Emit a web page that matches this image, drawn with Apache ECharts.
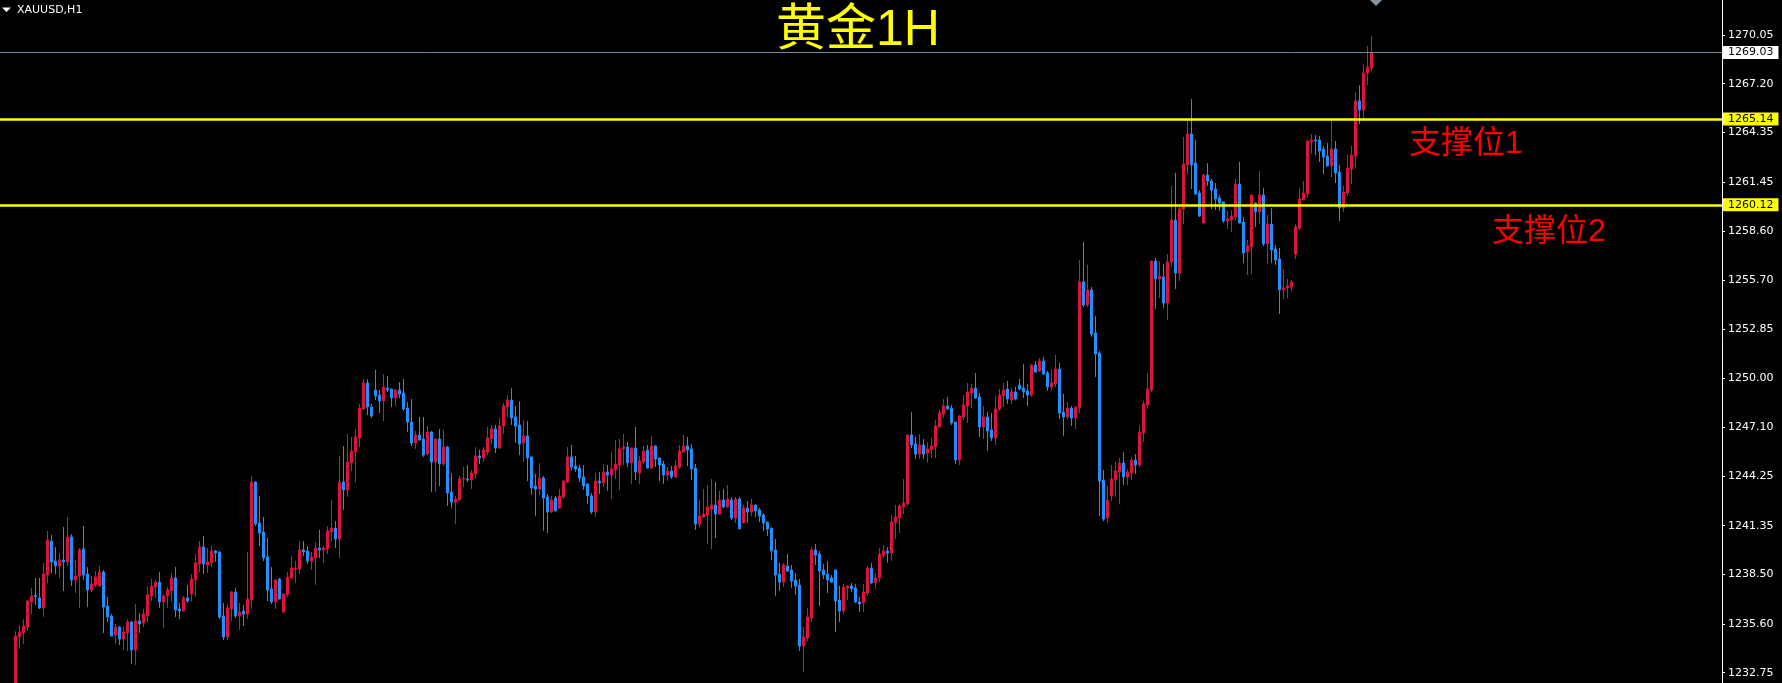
<!DOCTYPE html>
<html>
<head>
<meta charset="utf-8">
<script src="https://cdn.jsdelivr.net/npm/echarts@6/dist/echarts.min.js"></script>
<style>
html,body{margin:0;padding:0;background:#000;}
#chart{width:1782px;height:683px;}
</style>
</head>
<body>
<div id="chart"></div>
<script>
// XAUUSD H1 candles (oldest -> newest)
const openPrices = [
1231.15,1234.84,1235.09,1235.42,1236.89,1237.26,1237.12,1236.54,1238.46,1240.45,
1239.28,1238.99,1239.34,1239.23,1240.69,1238.17,1238.41,1239.99,1238.52,1237.59,
1237.88,1237.82,1238.64,1236.65,1236.07,1234.96,1235.42,1234.72,1235.07,1235.72,
1234.08,1235.78,1235.66,1236.07,1237.24,1237.76,1238.05,1236.89,1237.24,1237.53,
1238.29,1236.48,1236.36,1237.12,1237.35,1238.17,1239.11,1240.10,1239.05,1239.17,
1239.87,1239.81,1236.07,1234.84,1236.48,1237.47,1236.07,1236.36,1236.18,1237.00,
1243.90,1241.51,1240.98,1239.52,1237.65,1236.89,1238.23,1236.30,1237.30,1238.29,
1238.82,1238.82,1239.93,1239.87,1239.28,1239.46,1240.04,1239.93,1239.99,1240.98,
1241.21,1240.57,1243.90,1243.44,1245.02,1245.66,1246.48,1248.18,1249.70,1248.29,
1249.29,1248.99,1248.64,1249.40,1249.34,1248.82,1249.29,1249.11,1248.23,1247.41,
1246.19,1246.65,1246.42,1245.54,1246.83,1245.07,1246.42,1244.96,1245.95,1243.32,
1242.73,1242.85,1244.08,1244.08,1244.02,1244.37,1245.42,1245.31,1245.66,1246.42,
1247.01,1245.89,1247.18,1248.29,1248.70,1247.71,1247.24,1246.19,1246.60,1245.37,
1243.67,1243.49,1244.14,1243.03,1242.15,1242.97,1242.38,1243.03,1243.90,1245.37,
1244.84,1244.72,1244.20,1243.79,1243.09,1242.15,1243.96,1243.85,1244.49,1244.31,
1244.61,1244.90,1245.84,1245.95,1245.02,1245.89,1244.43,1245.07,1245.78,1244.72,
1246.01,1245.31,1244.96,1244.31,1244.55,1244.20,1244.78,1245.66,1246.01,1245.84,
1244.72,1241.45,1241.86,1241.97,1242.32,1242.56,1242.03,1242.85,1242.44,1242.85,
1241.80,1242.91,1241.51,1242.38,1242.15,1242.56,1242.27,1241.97,1241.56,1241.21,
1239.93,1238.52,1238.05,1238.99,1238.76,1238.17,1237.88,1234.31,1234.78,1235.95,
1239.93,1239.69,1238.76,1238.52,1238.29,1238.76,1237.00,1236.36,1237.71,1237.82,
1237.71,1236.89,1236.83,1237.41,1238.88,1238.00,1238.29,1239.63,1239.87,1239.75,
1241.51,1241.80,1242.44,1242.62,1246.65,1246.13,1245.54,1246.07,1245.60,1245.78,
1245.95,1247.12,1247.88,1248.35,1248.23,1247.41,1245.19,1247.71,1248.35,1249.11,
1249.40,1248.88,1247.12,1247.71,1246.95,1246.48,1248.18,1248.94,1249.34,1248.70,
1249.17,1249.58,1249.40,1249.23,1248.99,1250.75,1250.40,1250.98,1250.28,1249.46,
1249.64,1250.51,1248.00,1247.71,1248.23,1247.65,1248.23,1255.61,1254.26,1255.14,
1252.62,1251.45,1244.02,1241.80,1243.09,1244.02,1244.49,1245.02,1244.20,1244.43,
1245.19,1244.90,1246.77,1248.41,1249.29,1256.83,1255.78,1255.90,1254.37,1256.77,
1259.23,1256.13,1259.87,1262.45,1264.26,1262.56,1260.81,1259.05,1261.86,1261.51,
1261.04,1260.52,1260.28,1259.17,1259.23,1259.41,1261.33,1259.11,1257.36,1257.65,
1260.22,1259.70,1260.69,1257.83,1258.99,1257.53,1256.95,1255.14,1255.25,1255.31,
1257.24,1258.76,1260.40,1260.75,1263.79,1263.91,1263.91,1263.38,1262.97,1262.39,
1263.38,1262.04,1259.93,1260.81,1262.21,1262.97,1266.19,1265.66,1267.83,1268.12
];
const closePrices = [
1234.90,1235.13,1235.48,1236.95,1237.24,1237.20,1236.54,1238.52,1240.51,1239.23,
1238.99,1239.34,1239.23,1240.69,1238.17,1238.41,1239.93,1238.46,1237.59,1237.94,
1238.35,1238.64,1236.59,1236.01,1234.90,1235.42,1234.72,1235.13,1235.72,1234.08,
1235.78,1235.60,1236.18,1237.30,1237.82,1238.05,1236.89,1237.24,1237.59,1238.29,
1236.42,1236.36,1237.12,1236.94,1238.23,1239.17,1240.10,1239.11,1239.23,1239.87,
1239.75,1236.01,1234.84,1236.54,1237.47,1236.07,1236.30,1236.18,1237.06,1243.90,
1241.45,1240.92,1239.46,1237.59,1236.89,1238.17,1237.06,1237.35,1238.35,1238.88,
1238.88,1239.93,1239.81,1239.28,1239.52,1240.04,1239.93,1240.04,1241.04,1241.21,
1240.57,1243.90,1243.44,1245.07,1245.72,1246.54,1248.23,1249.70,1248.29,1247.76,
1248.93,1248.64,1249.46,1249.29,1248.82,1249.29,1249.05,1248.18,1247.41,1246.19,
1246.65,1246.36,1245.48,1246.83,1245.07,1246.42,1244.96,1245.95,1243.26,1242.73,
1242.91,1244.08,1244.14,1244.02,1244.43,1245.42,1245.31,1245.78,1246.48,1247.01,
1245.89,1247.18,1248.35,1248.70,1247.65,1247.18,1246.13,1246.60,1245.31,1243.55,
1243.49,1244.14,1242.97,1242.15,1242.85,1242.21,1243.09,1243.96,1245.37,1244.78,
1244.67,1244.14,1243.67,1243.09,1242.15,1243.96,1243.85,1244.49,1244.31,1244.67,
1244.96,1245.84,1245.95,1245.02,1245.89,1244.49,1245.13,1245.72,1244.72,1246.01,
1245.25,1244.90,1244.31,1244.55,1244.20,1244.84,1245.72,1246.01,1245.78,1244.67,
1241.45,1241.91,1242.03,1242.44,1242.56,1242.03,1242.85,1242.44,1242.91,1241.80,
1242.91,1241.16,1242.38,1242.15,1242.56,1242.21,1241.91,1241.51,1241.16,1239.87,
1238.46,1238.05,1239.05,1238.70,1238.11,1237.82,1234.31,1234.84,1236.01,1239.93,
1239.63,1238.70,1238.46,1238.17,1238.05,1236.94,1236.36,1237.76,1237.82,1237.65,
1236.89,1236.77,1237.47,1238.88,1238.00,1238.29,1239.69,1239.87,1239.75,1241.56,
1241.86,1242.50,1242.68,1246.65,1246.07,1245.54,1246.07,1245.54,1245.84,1246.01,
1247.18,1247.94,1248.35,1248.18,1247.36,1245.19,1247.76,1248.41,1249.17,1249.40,
1248.82,1247.12,1247.71,1246.89,1246.48,1248.18,1248.99,1249.29,1248.76,1249.17,
1248.76,1249.34,1249.17,1248.99,1250.75,1250.34,1250.98,1250.22,1249.46,1249.70,
1250.51,1247.94,1247.71,1248.23,1247.65,1248.29,1255.61,1254.26,1255.14,1252.56,
1251.39,1243.96,1241.74,1242.85,1244.08,1244.55,1245.02,1244.20,1244.49,1245.19,
1244.90,1246.83,1248.47,1249.34,1256.83,1255.78,1255.95,1254.37,1256.77,1259.23,
1256.13,1259.87,1262.50,1264.26,1262.45,1260.75,1259.46,1261.86,1261.51,1260.98,
1260.46,1260.22,1259.17,1259.29,1259.46,1261.33,1259.05,1257.30,1257.71,1260.69,
1259.70,1260.69,1257.83,1258.99,1257.47,1256.89,1255.14,1255.25,1255.37,1255.61,
1258.82,1260.46,1260.81,1263.85,1263.91,1263.85,1263.26,1262.91,1262.39,1263.38,
1261.98,1259.93,1260.87,1262.27,1263.03,1266.19,1265.66,1267.83,1268.18,1269.03
];
const lowPrices = [
1231.00,1234.14,1234.43,1235.19,1236.18,1236.71,1236.48,1236.01,1237.99,1238.58,
1238.52,1238.29,1237.53,1238.99,1237.82,1237.41,1236.54,1238.17,1236.59,1237.47,
1237.76,1237.80,1235.07,1235.72,1234.88,1234.43,1234.37,1234.08,1234.02,1233.26,
1233.20,1235.07,1235.42,1235.72,1236.94,1237.12,1236.54,1235.37,1236.54,1236.89,
1236.01,1235.89,1236.33,1236.83,1236.94,1237.18,1238.64,1238.52,1238.58,1238.93,
1239.23,1235.89,1234.66,1234.66,1235.78,1235.95,1235.25,1235.48,1235.89,1236.48,
1241.33,1240.16,1239.28,1236.94,1236.77,1236.48,1237.04,1236.24,1237.18,1238.23,
1237.99,1238.52,1239.58,1239.11,1238.76,1237.88,1239.46,1239.17,1239.69,1240.45,
1240.04,1239.46,1242.27,1243.03,1244.55,1243.90,1245.95,1248.12,1247.82,1247.65,
1248.70,1247.94,1247.47,1249.17,1248.29,1248.35,1248.82,1248.06,1246.83,1246.01,
1245.84,1246.34,1245.37,1245.48,1243.32,1243.32,1243.67,1244.84,1242.50,1242.38,
1241.45,1242.83,1243.61,1243.90,1243.49,1244.08,1244.96,1245.07,1245.48,1246.13,
1245.60,1245.84,1246.71,1247.71,1247.24,1246.19,1245.48,1245.07,1243.96,1243.14,
1241.91,1243.14,1241.04,1240.92,1242.09,1242.19,1242.36,1242.91,1243.85,1244.61,
1244.49,1243.90,1243.44,1242.62,1242.03,1241.86,1243.20,1243.61,1243.38,1242.91,
1244.08,1243.44,1244.90,1244.78,1243.79,1244.02,1243.79,1244.96,1244.70,1244.67,
1244.78,1243.96,1243.79,1243.96,1244.08,1244.14,1244.67,1245.64,1244.84,1244.02,
1241.10,1241.27,1241.80,1240.28,1239.99,1240.63,1242.01,1242.38,1242.42,1241.68,
1241.51,1241.14,1241.49,1241.51,1241.91,1241.86,1241.56,1241.04,1240.75,1239.34,
1237.24,1237.53,1237.76,1238.64,1237.71,1237.30,1234.02,1232.79,1234.60,1235.72,
1239.05,1236.65,1238.23,1237.41,1237.99,1235.13,1235.72,1236.18,1237.00,1237.47,
1236.83,1236.30,1236.30,1237.24,1237.94,1237.65,1238.05,1239.46,1239.17,1239.28,
1240.57,1240.92,1242.03,1242.56,1245.89,1245.25,1245.25,1245.25,1245.02,1245.31,
1245.31,1247.10,1247.65,1248.12,1247.24,1244.96,1244.90,1247.53,1247.36,1248.23,
1248.76,1246.54,1246.42,1245.72,1246.30,1246.07,1248.06,1248.29,1248.47,1248.47,
1248.68,1249.27,1248.82,1248.35,1248.88,1250.32,1250.34,1250.16,1249.23,1249.23,
1249.46,1247.59,1246.60,1247.59,1247.18,1247.01,1247.94,1254.14,1254.14,1252.39,
1250.05,1241.91,1241.62,1241.51,1242.79,1243.03,1242.62,1243.73,1243.73,1244.02,
1244.37,1244.78,1246.25,1248.18,1249.17,1254.02,1254.67,1254.08,1253.38,1256.48,
1255.19,1255.66,1258.99,1261.92,1261.04,1260.69,1259.41,1259.03,1261.22,1259.87,
1259.81,1259.76,1259.05,1258.70,1258.53,1259.20,1259.03,1256.71,1256.01,1256.07,
1258.82,1258.99,1257.71,1256.66,1256.71,1256.60,1253.73,1254.61,1254.67,1255.08,
1256.95,1258.64,1260.38,1260.57,1263.09,1263.03,1262.62,1261.92,1262.37,1261.74,
1261.39,1259.17,1259.70,1260.63,1261.33,1262.27,1264.84,1265.08,1267.13,1267.94
];
const highPrices = [
1235.17,1235.54,1235.87,1236.98,1237.71,1238.29,1238.29,1239.17,1241.04,1240.81,
1240.10,1239.75,1241.27,1241.86,1240.86,1239.34,1240.04,1241.33,1238.93,1238.41,
1238.70,1238.99,1238.76,1237.18,1236.18,1235.60,1235.48,1235.48,1235.89,1235.78,
1236.77,1236.24,1236.48,1237.82,1238.23,1238.17,1238.64,1237.35,1237.76,1238.58,
1238.93,1236.83,1237.24,1237.88,1238.52,1239.69,1240.45,1240.75,1240.04,1240.16,
1239.93,1239.83,1236.83,1236.77,1237.53,1237.71,1236.83,1236.71,1239.81,1244.26,
1243.96,1243.09,1241.86,1240.63,1238.93,1238.23,1238.29,1237.37,1238.64,1239.58,
1239.28,1240.45,1240.45,1240.16,1239.81,1240.39,1241.10,1240.16,1241.33,1242.85,
1241.62,1245.42,1246.01,1246.71,1246.54,1247.01,1248.47,1249.93,1249.93,1248.47,
1250.46,1249.29,1250.22,1250.11,1249.36,1249.31,1249.75,1249.93,1248.58,1248.76,
1246.89,1247.71,1247.71,1247.18,1246.89,1246.44,1247.01,1246.95,1246.01,1244.43,
1243.09,1244.26,1244.78,1244.90,1244.61,1245.95,1245.78,1245.95,1247.12,1247.24,
1247.24,1247.65,1248.53,1248.99,1249.40,1248.35,1248.64,1247.53,1247.47,1245.39,
1244.37,1245.02,1244.26,1243.20,1243.09,1243.09,1243.49,1244.02,1245.95,1246.07,
1245.42,1244.90,1244.90,1243.81,1243.26,1244.43,1244.49,1244.96,1244.90,1245.66,
1246.36,1246.42,1246.71,1246.25,1245.91,1247.12,1245.42,1246.01,1246.07,1246.60,
1246.07,1245.33,1245.13,1244.78,1244.84,1245.19,1246.07,1246.65,1246.54,1246.13,
1244.96,1242.85,1243.49,1243.73,1244.08,1243.90,1243.38,1243.49,1243.73,1243.03,
1243.03,1243.03,1242.56,1242.79,1242.91,1242.58,1242.38,1242.09,1241.58,1241.23,
1240.57,1239.17,1239.17,1239.69,1239.05,1238.58,1238.23,1235.42,1236.54,1240.10,
1240.28,1239.87,1239.11,1239.28,1238.46,1238.78,1237.82,1237.94,1237.88,1238.00,
1237.94,1237.18,1237.94,1238.99,1239.17,1238.58,1240.04,1240.22,1240.10,1241.97,
1242.56,1242.62,1244.08,1246.67,1248.00,1246.54,1246.71,1246.42,1246.25,1246.48,
1247.53,1248.12,1248.76,1248.88,1248.41,1247.43,1247.82,1248.99,1249.70,1249.64,
1250.28,1249.11,1248.35,1248.00,1247.94,1248.94,1249.34,1249.70,1249.81,1249.40,
1249.46,1249.93,1250.81,1249.64,1250.81,1250.98,1251.16,1251.22,1250.40,1250.46,
1251.33,1250.87,1249.05,1248.58,1248.35,1248.31,1256.89,1257.94,1256.60,1255.31,
1253.61,1251.57,1244.61,1243.67,1244.90,1245.07,1245.31,1245.66,1244.67,1245.37,
1245.54,1247.24,1248.64,1250.28,1256.85,1257.01,1256.83,1256.66,1257.24,1261.22,
1261.98,1259.99,1264.08,1265.02,1266.31,1263.91,1260.98,1261.92,1262.56,1261.63,
1261.39,1260.69,1260.30,1259.76,1259.81,1261.63,1262.62,1259.41,1258.06,1260.71,
1260.24,1262.10,1261.10,1259.52,1259.93,1257.77,1257.59,1256.36,1255.78,1255.72,
1258.99,1261.10,1261.51,1263.87,1264.26,1264.20,1264.14,1263.56,1263.73,1265.02,
1263.85,1262.45,1261.22,1263.03,1263.56,1266.72,1267.12,1268.35,1269.41,1269.99
];
// price axis labels shown on the right
const priceTicks = [1232.75,1235.60,1238.50,1241.35,1244.25,1247.10,1250.00,1252.85,1255.70,1258.60,1261.45,1264.35,1267.20,1270.05];
// horizontal levels
const currentPrice = 1269.03;
const support1 = 1265.14;
const support2 = 1260.12;
const yMin = 1232.148, yMax = 1272.097;

const candles = openPrices.map((o, i) => [i, o, closePrices[i], lowPrices[i], highPrices[i]]);

const chart = echarts.init(document.getElementById('chart'));
const labelFont = {fontFamily: 'DejaVu Sans', fontSize: 11};
chart.setOption({
  backgroundColor: '#000000',
  animation: false,
  grid: {left: 0, right: 60, top: 0, bottom: 0, containLabel: false, outerBoundsMode: 'none'},
  xAxis: {type: 'value', min: -3.875, max: 426.625, show: false},
  yAxis: {
    type: 'value', position: 'right', min: yMin, max: yMax, scale: true,
    axisLine: {show: true, onZero: false, lineStyle: {color: '#ffffff', width: 1}},
    axisTick: {show: true, length: 3, customValues: priceTicks, lineStyle: {color: '#ffffff'}},
    axisLabel: Object.assign({customValues: priceTicks, color: '#ffffff', margin: 6,
      formatter: v => Number(v).toFixed(2)}, labelFont),
    splitLine: {show: false}
  },
  series: [{
    type: 'candlestick',
    data: candles,
    encode: {x: 0, y: [1, 2, 3, 4]},
    barWidth: 2,
    itemStyle: {color: '#DC143C', color0: '#1E90FF', borderColor: '#DC143C', borderColor0: '#1E90FF', borderWidth: 1},
    markLine: {
      symbol: 'none', silent: true, animation: false,
      label: Object.assign({position: 'end', distance: 1, padding: [1, 5, 1, 5], color: '#000',
        formatter: p => Number(p.value).toFixed(2)}, labelFont),
      data: [
        {yAxis: currentPrice, lineStyle: {color: '#778899', width: 1, type: 'solid'}, label: {backgroundColor: '#ffffff'}},
        {yAxis: support1, lineStyle: {color: '#FFFF00', width: 2.5, type: 'solid'}, label: {backgroundColor: '#FFFF00'}},
        {yAxis: support2, lineStyle: {color: '#FFFF00', width: 2.5, type: 'solid'}, label: {backgroundColor: '#FFFF00'}}
      ]
    }
  }],
  graphic: [
    {type: 'polygon', shape: {points: [[2, 7.5], [11, 7.5], [6.5, 12]]}, style: {fill: '#ffffff'}},
    {type: 'text', x: 17, y: 10, style: {text: 'XAUUSD,H1', fill: '#ffffff', font: '11px "DejaVu Sans"', verticalAlign: 'middle', align: 'left'}},
    {type: 'text', x: 776, y: 31, style: {text: '黄金1H', fill: '#FFFF00', font: '50px "Liberation Sans","Noto Sans CJK SC"', verticalAlign: 'middle', align: 'left'}},
    {type: 'text', x: 1409, y: 144, style: {text: '支撑位1', fill: '#FF0000', font: '32px "Liberation Sans","Noto Sans CJK SC"', verticalAlign: 'middle', align: 'left'}},
    {type: 'text', x: 1492, y: 232, style: {text: '支撑位2', fill: '#FF0000', font: '32px "Liberation Sans","Noto Sans CJK SC"', verticalAlign: 'middle', align: 'left'}},
    {type: 'polygon', shape: {points: [[1370, 0], [1382, 0], [1376, 6]]}, style: {fill: '#8593a0'}}
  ]
});
</script>
</body>
</html>
